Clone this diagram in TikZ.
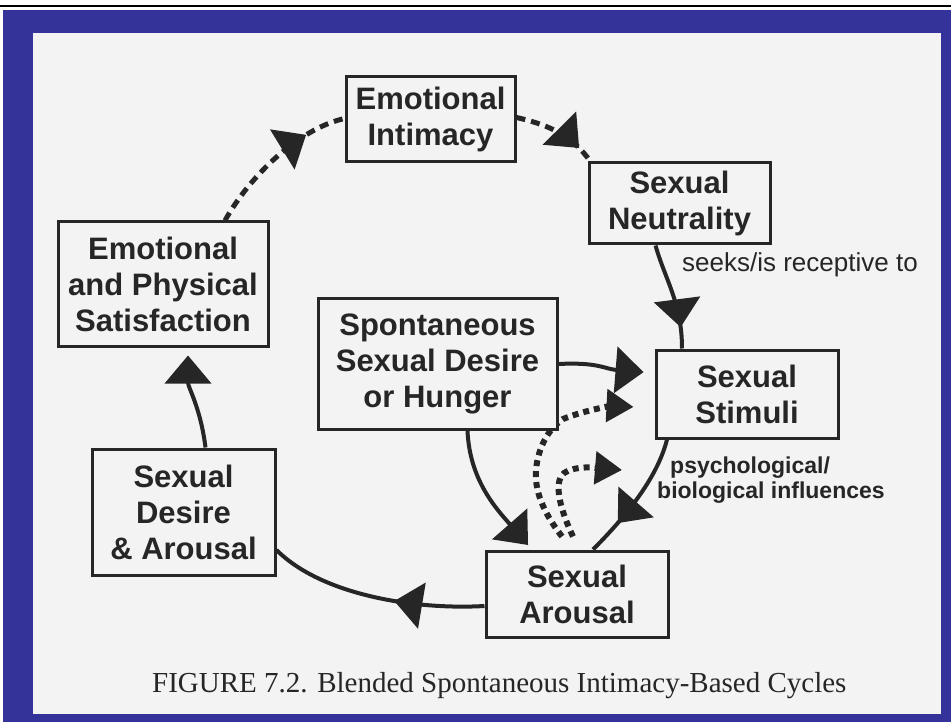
\documentclass[tikz,border=0pt]{standalone}
\usepackage{fontspec}
\setmainfont{Liberation Sans}
\newfontfamily\capfont{Liberation Serif}
\usetikzlibrary{arrows.meta,decorations.markings,calc,backgrounds}
\definecolor{navy}{HTML}{333399}
\definecolor{paper}{HTML}{F3F3F3}
\definecolor{ink}{HTML}{262626}
\tikzset{
  box/.style={draw=ink, line width=3pt, fill=paper, text=ink, align=center,
    font=\fontsize{31}{36}\selectfont\bfseries, inner sep=0pt},
  solidc/.style={draw=ink, line width=4pt},
  dashc/.style={draw=ink, line width=5pt, dash pattern=on 9pt off 6pt},
  dotc/.style={draw=ink, line width=6pt, dash pattern=on 6pt off 5pt},
  tri/.tip={Triangle[length=28pt,width=46pt]},
  trismall/.tip={Triangle[length=27pt,width=32pt]},
  midarrow/.style={postaction={decorate},
    decoration={markings, mark=at position #1 with {\arrow{tri}}}},
  lbl/.style={text=ink, inner sep=0pt, anchor=base west},
}
\begin{document}
\begin{tikzpicture}[x=1pt,y=-1pt]
\useasboundingbox (0,0) rectangle (951,722);
\begin{pgfonlayer}{background}
  \fill[white] (0,0) rectangle (951,722);
  \draw[black, line width=2.5pt] (0,6) -- (951,6);
  \fill[navy] (3,10) rectangle (951,722);
  \fill[paper] (33,33) rectangle (941,714);
\end{pgfonlayer}

% boxes
\node[box, minimum width=169pt, minimum height=85pt] (ei) at (430.5,119.5) {Emotional\\Intimacy};
\node[box, minimum width=181pt, minimum height=81pt] (sn) at (679.5,203.5) {Sexual\\Neutrality};
\node[box, minimum width=210pt, minimum height=124pt] (sat) at (163,284) {Emotional\\and Physical\\Satisfaction};
\node[box, minimum width=239pt, minimum height=130pt] (spont) at (437.5,364) {Spontaneous\\Sexual Desire\\or Hunger};
\node[box, minimum width=182pt, minimum height=88pt] (stim) at (747,394) {Sexual\\Stimuli};
\node[box, minimum width=183pt, minimum height=126pt] (da) at (183.5,512) {Sexual\\Desire\\\&{} Arousal};
\node[box, minimum width=182pt, minimum height=86pt] (ar) at (577,594) {Sexual\\Arousal};
\coordinate (infl) at (622,470);

% labels
\node[lbl, font=\fontsize{26}{30}\selectfont] (seeks) at (682,272) {seeks/is receptive to};
\node[lbl, font=\fontsize{23}{25}\selectfont\bfseries] (psy1) at (670,473) {psychological/};
\node[lbl, font=\fontsize{23}{25}\selectfont\bfseries] (psy2) at (657,498) {biological influences};
\node[lbl, font=\capfont\fontsize{29}{32}\selectfont] (cap) at (152,692) {FIGURE 7.2. Blended Spontaneous Intimacy-Based Cycles};

% connectors
\begin{pgfonlayer}{background}
  \draw[dashc, midarrow=0.74] ($(sat.north)+(62,0)$) .. controls +(25,-45) and +(-45,10) .. ($(ei.west)+(0,-1)$);
  \draw[dashc, midarrow=0.8] ($(ei.east)+(0,-2)$) .. controls +(35,8) and +(-18,-25) .. ($(sn.north west)+(3,0)$);
  \draw[solidc, midarrow=0.8] ($(sn.south)+(-24,0)$) .. controls +(10,35) and +(0,-45) .. ($(stim.north)+(-65,0)$);
  \draw[solidc, -{tri}, shorten >=11pt] (spont.east) .. controls +(40,-2) and +(-50,-4) .. ($(stim.west)+(0,-21)$);
  \draw[dotc, -{trismall}, shorten >=21pt] ($(ar.north)+(-15,-13)$) .. controls +(-14,-18) and +(-2,25) .. (536,470)
      .. controls +(2,-22) and +(-15,10) .. (563,419) .. controls +(25,-10) and +(-40,-2) .. ($(stim.west)+(0,14)$);
  \draw[dotc, -{trismall}] ($(ar.north)+(-4,-13)$) .. controls +(-11,-23) and +(-12,10) .. (564,473)
      .. controls +(12,-8) and +(-25,-2) .. (infl);
  \draw[solidc, -{tri}, shorten >=6pt] ($(spont.south)+(30,0)$) .. controls +(2,50) and +(-35,-40) .. ($(ar.north)+(-45,0)$);
  \draw[solidc, midarrow=0.73] ($(stim.south)+(-80,0)$) .. controls +(-10,40) and +(30,-30) .. ($(ar.north)+(16,0)$);
  \draw[solidc, midarrow=0.41] ($(ar.west)+(0,12)$) .. controls +(-70,4) and +(45,45) .. ($(da.east)+(0,38)$);
  \draw[solidc, -{tri}, shorten >=8pt] ($(da.north)+(22,0)$) .. controls +(-5,-40) and +(0,40) .. ($(sat.south)+(25,0)$);
\end{pgfonlayer}
\end{tikzpicture}
\end{document}
